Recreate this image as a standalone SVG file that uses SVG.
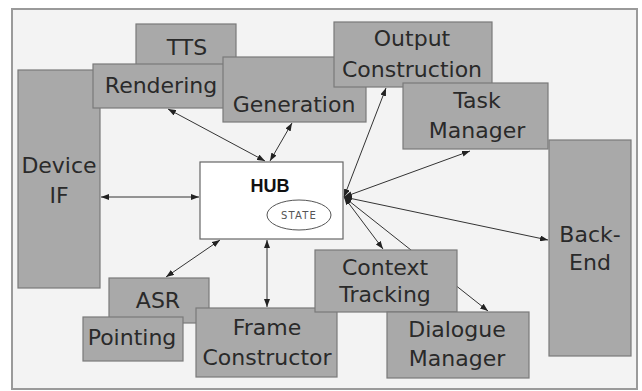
<svg xmlns="http://www.w3.org/2000/svg" width="642" height="391" viewBox="0 0 642 391">
<style>
.box{fill:#a9a9a9;stroke:#7a7a7a;stroke-width:1.2}
.lbl{font-family:"DejaVu Sans",sans-serif;font-size:22px;fill:#2a2a2a;text-anchor:middle}
.con{stroke:#333;stroke-width:1;fill:none;marker-start:url(#ah);marker-end:url(#ah)}
</style>
<defs>
<marker id="ah" viewBox="0 0 8 6" refX="8" refY="3" markerWidth="8" markerHeight="6" markerUnits="userSpaceOnUse" orient="auto-start-reverse">
<path d="M0,0 L8,3 L0,6 z" fill="#222"/>
</marker>
</defs>
<rect x="0" y="0" width="642" height="391" fill="#ffffff"/>
<rect x="12" y="9" width="625" height="380" fill="#f3f3f3" stroke="#9a9a9a" stroke-width="2"/>
<g id="connectors">
<line class="con" x1="168" y1="109" x2="265" y2="161"/>
<line class="con" x1="292" y1="123" x2="270" y2="161"/>
<line class="con" x1="101" y1="197" x2="199" y2="197"/>
<line class="con" x1="220" y1="240" x2="166" y2="277"/>
<line class="con" x1="267" y1="240" x2="267" y2="307"/>
<line class="con" x1="344" y1="197" x2="386" y2="88"/>
<line class="con" x1="344" y1="197" x2="470" y2="151"/>
<line class="con" x1="344" y1="197" x2="548" y2="240"/>
<line class="con" x1="344" y1="197" x2="383" y2="249"/>
<line class="con" x1="344" y1="197" x2="488" y2="311"/>
</g>
<g id="device-if">
<rect class="box" x="18" y="70" width="82" height="218"/>
<text class="lbl" x="59" y="173">Device</text>
<text class="lbl" x="59" y="203">IF</text>
</g>
<g id="tts">
<rect class="box" x="136" y="24" width="100" height="42"/>
<text class="lbl" x="187" y="55">TTS</text>
</g>
<g id="rendering">
<rect class="box" x="93" y="64" width="132" height="44"/>
<text class="lbl" x="161" y="93">Rendering</text>
</g>
<g id="generation">
<rect class="box" x="223" y="57" width="143" height="65"/>
<text class="lbl" x="294" y="112">Generation</text>
</g>
<g id="output-construction">
<rect class="box" x="334" y="22" width="158" height="65"/>
<text class="lbl" x="412" y="46">Output</text>
<text class="lbl" x="412" y="77">Construction</text>
</g>
<g id="task-manager">
<rect class="box" x="403" y="83" width="145" height="66"/>
<text class="lbl" x="477" y="108">Task</text>
<text class="lbl" x="477" y="138">Manager</text>
</g>
<g id="back-end">
<rect class="box" x="549" y="140" width="82" height="216"/>
<text class="lbl" x="590" y="242">Back-</text>
<text class="lbl" x="590" y="270">End</text>
</g>
<g id="hub">
<rect x="200" y="162" width="143" height="77" fill="#ffffff" stroke="#666" stroke-width="1.2"/>
<text x="270" y="192" font-family="'Liberation Sans',Arial,sans-serif" font-weight="bold" font-size="18" fill="#111" text-anchor="middle">HUB</text>
<ellipse cx="299" cy="215" rx="32" ry="15" fill="none" stroke="#555" stroke-width="1"/>
<text x="299" y="219" font-family="'DejaVu Sans',sans-serif" font-size="10" letter-spacing="1.2" fill="#555" text-anchor="middle">STATE</text>
</g>
<g id="asr">
<rect class="box" x="109" y="278" width="100" height="45"/>
<text class="lbl" x="158" y="308">ASR</text>
</g>
<g id="pointing">
<rect class="box" x="83" y="317" width="100" height="44"/>
<text class="lbl" x="132" y="345">Pointing</text>
</g>
<g id="frame-constructor">
<rect class="box" x="196" y="308" width="141" height="69"/>
<text class="lbl" x="267" y="335">Frame</text>
<text class="lbl" x="267" y="365">Constructor</text>
</g>
<g id="context-tracking">
<rect class="box" x="315" y="250" width="142" height="62"/>
<text class="lbl" x="385" y="275">Context</text>
<text class="lbl" x="385" y="302">Tracking</text>
</g>
<g id="dialogue-manager">
<rect class="box" x="387" y="312" width="142" height="66"/>
<text class="lbl" x="457" y="337">Dialogue</text>
<text class="lbl" x="457" y="366">Manager</text>
</g>
</svg>
